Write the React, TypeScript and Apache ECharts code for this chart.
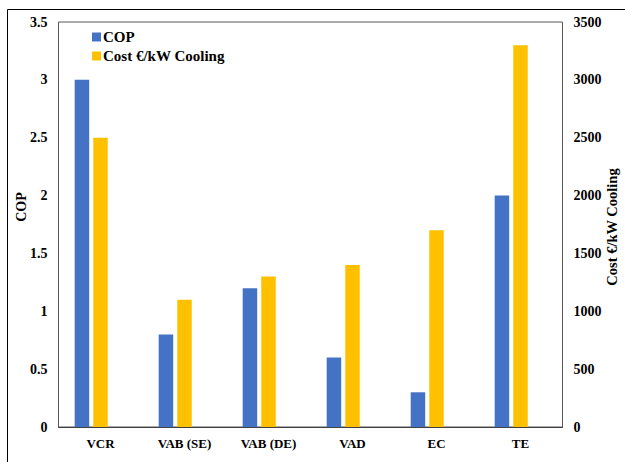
import React, { useEffect, useRef } from "react";
import * as echarts from "echarts";

const categories = ["VCR", "VAB (SE)", "VAB (DE)", "VAD", "EC", "TE"];
const copValues = [3, 0.8, 1.2, 0.6, 0.3, 2];
const costValues = [2500, 1100, 1300, 1400, 1700, 3300];
const spacerValues = [null, null, null, null, null, null];

const FONT = "'Liberation Serif', 'Times New Roman', serif";

export default function App() {
  const ref = useRef<HTMLDivElement>(null);
  useEffect(() => {
    if (!ref.current) return;
    const chart = echarts.init(ref.current, null, { renderer: "svg" });
    chart.setOption({
      animation: false,
      backgroundColor: "#ffffff",
      grid: {
        left: 58.5,
        top: 22,
        width: 504,
        height: 405,
        show: true,
        borderColor: "#595959",
        borderWidth: 1,
        backgroundColor: "transparent",
      },
      legend: {
        orient: "vertical",
        left: 92,
        top: 29.5,
        padding: 0,
        itemWidth: 9,
        itemHeight: 9,
        itemGap: 4,
        icon: "rect",
        data: ["COP", "Cost €/kW Cooling"],
        textStyle: {
          fontFamily: FONT,
          fontWeight: "bold",
          fontSize: 15,
          lineHeight: 15,
          color: "#000",
          padding: [0, 0, 0, -3],
        },
      },
      xAxis: {
        type: "category",
        data: categories,
        axisLine: { show: true, lineStyle: { color: "#404040", width: 1 } },
        axisTick: { show: false },
        axisLabel: {
          margin: 10,
          fontFamily: FONT,
          fontWeight: "bold",
          fontSize: 13,
          color: "#000",
        },
        splitLine: { show: false },
      },
      yAxis: [
        {
          type: "value",
          min: 0,
          max: 3.5,
          interval: 0.5,
          axisLine: { show: false },
          axisTick: { show: false },
          splitLine: { show: false },
          axisLabel: {
            margin: 11,
            fontFamily: FONT,
            fontWeight: "bold",
            fontSize: 14,
            color: "#000",
          },
        },
        {
          type: "value",
          min: 0,
          max: 3500,
          interval: 500,
          axisLine: { show: false },
          axisTick: { show: false },
          splitLine: { show: false },
          axisLabel: {
            margin: 11,
            fontFamily: FONT,
            fontWeight: "bold",
            fontSize: 14,
            color: "#000",
            formatter: (v: number) => String(v),
          },
        },
      ],
      series: [
        {
          name: "COP",
          type: "bar",
          yAxisIndex: 0,
          data: copValues,
          barWidth: 14.5,
          barGap: "28%",
          itemStyle: { color: "#4472C4" },
        },
        {
          name: "Cost €/kW Cooling",
          type: "bar",
          yAxisIndex: 1,
          data: costValues,
          barWidth: 14.5,
          barGap: "28%",
          itemStyle: { color: "#FFC000" },
        },
        {
          name: "spacer",
          type: "bar",
          yAxisIndex: 1,
          data: spacerValues,
          barWidth: 14.5,
          barGap: "28%",
          itemStyle: { color: "transparent" },
        },
      ],
      graphic: [
        {
          type: "line",
          shape: { x1: 7.5, y1: 9.5, x2: 625, y2: 9.5 },
          style: { stroke: "#000", lineWidth: 1 },
        },
        {
          type: "line",
          shape: { x1: 7.5, y1: 9.5, x2: 7.5, y2: 462 },
          style: { stroke: "#000", lineWidth: 1 },
        },
        {
          type: "text",
          x: 21,
          y: 207,
          rotation: Math.PI / 2,
          style: {
            text: "COP",
            fontFamily: FONT,
            fontWeight: "bold",
            fontSize: 14,
            fill: "#000",
            align: "center",
            verticalAlign: "middle",
          },
        },
        {
          type: "text",
          x: 612,
          y: 227,
          rotation: Math.PI / 2,
          style: {
            text: "Cost €/kW Cooling",
            fontFamily: FONT,
            fontWeight: "bold",
            fontSize: 14.5,
            fill: "#000",
            align: "center",
            verticalAlign: "middle",
          },
        },
      ],
    });
    return () => chart.dispose();
  }, []);
  return (
    <div
      ref={ref}
      style={{ position: "absolute", left: 0, top: 0, width: 625, height: 462 }}
    />
  );
}
